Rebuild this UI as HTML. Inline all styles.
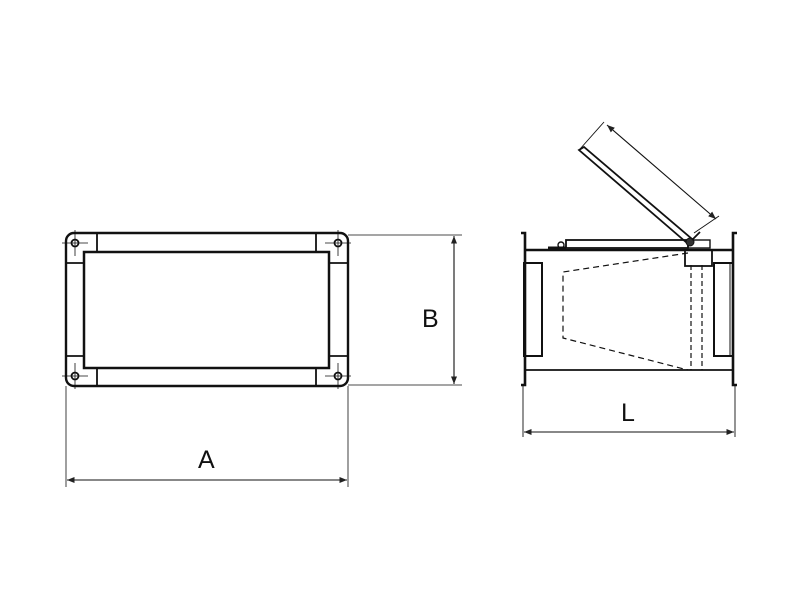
<!DOCTYPE html>
<html><head><style>body{margin:0;background:#fff}svg{display:block}</style></head><body>
<svg width="800" height="600" viewBox="0 0 800 600" xmlns="http://www.w3.org/2000/svg" font-family="Liberation Sans, sans-serif">
<defs>
<marker id="ar" viewBox="0 0 10 10" refX="10" refY="5" markerWidth="7" markerHeight="7" orient="auto-start-reverse"><path d="M0,1 L10,5 L0,9 z" fill="#222"/></marker>
</defs>
<g fill="none" stroke="#111">
<!-- left view -->
<rect x="66" y="233" width="282" height="153" rx="8" stroke-width="2.4"/>
<rect x="84" y="252" width="245" height="116" stroke-width="2.5"/>
<line x1="97" y1="233" x2="97" y2="252" stroke-width="1.8"/>
<line x1="316" y1="233" x2="316" y2="252" stroke-width="1.8"/>
<line x1="97" y1="368" x2="97" y2="386" stroke-width="1.8"/>
<line x1="316" y1="368" x2="316" y2="386" stroke-width="1.8"/>
<line x1="66" y1="263" x2="84" y2="263" stroke-width="1.8"/>
<line x1="66" y1="356" x2="84" y2="356" stroke-width="1.8"/>
<line x1="329" y1="263" x2="348" y2="263" stroke-width="1.8"/>
<line x1="329" y1="356" x2="348" y2="356" stroke-width="1.8"/>
<g stroke-width="1.8">
<circle cx="75" cy="243" r="3.5"/><circle cx="338" cy="243" r="3.5"/>
<circle cx="75" cy="376" r="3.5"/><circle cx="338" cy="376" r="3.5"/>
</g>
<g stroke-width="0.8">
<path d="M62 243H88M75 230V256M325 243H351M338 230V256M62 376H88M75 363V389M325 376H351M338 363V389"/>
<path d="M348 235H462M348 385H462M66 386V487M348 386V487"/>
</g>
<line x1="454" y1="236" x2="454" y2="384" stroke-width="1.1" marker-start="url(#ar)" marker-end="url(#ar)"/>
<line x1="67" y1="480" x2="347" y2="480" stroke-width="1.1" marker-start="url(#ar)" marker-end="url(#ar)"/>

<!-- right view -->
<path d="M521 233H525V385H521M737 233H733V385H737" stroke-width="2.6"/>
<line x1="525" y1="250" x2="733" y2="250" stroke-width="2.6"/>
<line x1="525" y1="370" x2="733" y2="370" stroke-width="1.8"/>
<rect x="524" y="263" width="18" height="93" stroke-width="2"/>
<rect x="714" y="263" width="19" height="93" stroke-width="2"/>
<line x1="730" y1="263" x2="730" y2="356" stroke-width="1"/>
<path d="M688 253L563 272V338L688 370" stroke-width="1.2" stroke-dasharray="6,4"/>
<path d="M691 265V370M702 265V370" stroke-width="1.2" stroke-dasharray="5,3"/>
<rect x="685" y="250" width="27" height="16" stroke-width="1.8"/>
<rect x="566" y="240" width="122" height="8" stroke-width="1.8"/>
<rect x="688" y="240" width="22" height="8" stroke-width="1.4"/>
<circle cx="561" cy="245" r="3" stroke-width="1.4"/>
<path d="M548 248H566" stroke-width="3"/>
<polygon points="579,150 584,147 692,239 687,243" stroke-width="1.8"/>
<circle cx="690" cy="242" r="4" fill="#333" stroke-width="1"/>
<path d="M692 240L700 232" stroke-width="1.8"/>
<g stroke-width="0.9">
<line x1="580" y1="149" x2="604" y2="122"/>
<line x1="694" y1="233" x2="719" y2="216"/>
</g>
<line x1="607" y1="125" x2="716" y2="219" stroke-width="1.1" marker-start="url(#ar)" marker-end="url(#ar)"/>
<path d="M523 385V437M735 385V437" stroke-width="0.9"/>
<line x1="524" y1="432" x2="734" y2="432" stroke-width="1.1" marker-start="url(#ar)" marker-end="url(#ar)"/>
</g>
<g fill="#111" font-size="25">
<text x="198" y="468">A</text>
<text x="422" y="327">B</text>
<text x="621" y="421">L</text>
</g>
</svg>
</body></html>
